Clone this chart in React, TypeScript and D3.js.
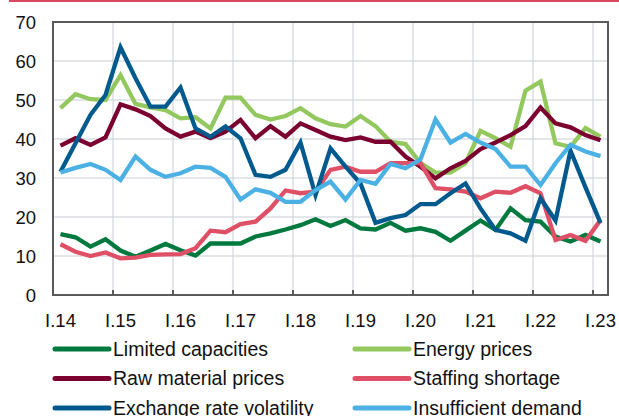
import React, { useEffect, useRef } from "react";
import * as d3 from "d3";

// quarters I.14 .. I.23 (37 points)
const years = ["14", "15", "16", "17", "18", "19", "20", "21", "22", "23"];
const quarters: string[] = [];
years.forEach((y, yi) => {
  ["I", "II", "III", "IV"].forEach((q) => {
    if (yi < years.length - 1 || q === "I") quarters.push(`${q}.${y}`);
  });
});
const tickLabels = years.map((y) => `I.${y}`);
const yTicks = [0, 10, 20, 30, 40, 50, 60, 70];

const limitedCapacities = [
  15.6, 14.8, 12.4, 14.3, 11.4, 9.8, 11.4, 13.1, 11.5, 10.1, 13.2, 13.2, 13.2,
  15, 15.8, 16.8, 17.9, 19.4, 17.7, 19.2, 17.1, 16.8, 18.5, 16.5, 17.1, 16.2,
  13.9, 16.5, 19.1, 16.7, 22.2, 19.2, 18.8, 15, 13.7, 15.4, 13.7,
];
const energyPrices = [
  47.9, 51.5, 50.2, 50, 56.4, 49, 48.1, 47.4, 45.3, 45.6, 42.7, 50.6, 50.6,
  46.2, 45, 45.9, 47.9, 45.3, 43.8, 43.2, 45.9, 43.3, 39.3, 38.7, 33.8, 31.4,
  31.4, 33.8, 42.1, 40.2, 38, 52.4, 54.7, 38.9, 38, 42.8, 40.6,
];
const rawMaterialPrices = [
  38.3, 40.2, 38.5, 40.4, 48.9, 47.6, 45.9, 42.7, 40.6, 41.9, 40.2, 41.9, 44.9,
  40.2, 43.3, 40.6, 44, 42.3, 40.6, 39.7, 40.4, 39.3, 39.3, 35.5, 32.9, 29.9,
  32.5, 34.4, 37.4, 39.1, 41, 43.3, 48.1, 44, 43, 41, 39.7,
];
const staffingShortage = [
  13, 11.1, 10, 10.9, 9.4, 9.6, 10.3, 10.4, 10.5, 12, 16.5, 16.1, 18.2, 18.8,
  22.2, 26.8, 26.1, 26.5, 32.1, 32.9, 31.6, 31.6, 33.8, 33.8, 33.8, 27.4, 27.1,
  26.5, 24.8, 26.5, 26.2, 27.9, 26.1, 14.1, 15.4, 13.9, 19.2,
];
const exchangeRateVolatility = [
  31.6, 38.9, 46.2, 51.3, 63.5, 55.6, 48.3, 48.3, 53.2, 42.7, 40.6, 43.2, 40.2,
  30.8, 30.3, 32.1, 39.1, 25.6, 37.6, 32.9, 28.6, 18.5, 19.7, 20.5, 23.3, 23.3,
  26.1, 28.6, 22.2, 16.7, 15.8, 13.9, 24.8, 19.1, 37, 27.6, 18.5,
];
const insufficientDemand = [
  31.4, 32.6, 33.6, 32.1, 29.5, 35.5, 32.1, 30.3, 31.2, 32.9, 32.6, 30.3, 24.5,
  27.1, 26.2, 23.9, 23.9, 26.9, 29.1, 24.5, 29.5, 28.5, 33.6, 32.5, 34.8, 45,
  39.1, 41.3, 39.1, 37.4, 32.9, 32.9, 28.2, 33.8, 38.5, 36.8, 35.6,
];

const series = [
  { name: "Limited capacities", color: "#00793e", values: limitedCapacities },
  { name: "Energy prices", color: "#92c85e", values: energyPrices },
  { name: "Raw material prices", color: "#7b0030", values: rawMaterialPrices },
  { name: "Staffing shortage", color: "#df4f66", values: staffingShortage },
  { name: "Exchange rate volatility", color: "#005a8e", values: exchangeRateVolatility },
  { name: "Insufficient demand", color: "#4bb1e5", values: insufficientDemand },
];

const App = () => {
  const svgRef = useRef<SVGSVGElement | null>(null);

  useEffect(() => {
    const width = 619;
    const height = 416;
    const margin = { top: 22, right: 11, bottom: 121, left: 53 };
    const font = "'Liberation Sans', Arial, sans-serif";

    const svg = d3.select(svgRef.current);
    svg.selectAll("*").remove();
    svg.attr("width", width).attr("height", height);

    // red rule on top
    svg
      .append("line")
      .attr("x1", 9)
      .attr("x2", width)
      .attr("y1", 1)
      .attr("y2", 1)
      .attr("stroke", "#d9485f")
      .attr("stroke-width", 2);

    const x = d3
      .scaleBand()
      .domain(quarters)
      .range([margin.left, width - margin.right]);

    const y = d3
      .scaleLinear()
      .domain([0, 70])
      .range([height - margin.bottom, margin.top]);

    const left = margin.left;
    const right = width - margin.right;
    const bottom = height - margin.bottom;
    const top = margin.top;

    // grid
    const grid = svg.append("g").attr("stroke", "#c9cdd3").attr("stroke-width", 1);
    yTicks.slice(1, -1).forEach((t) => {
      grid
        .append("line")
        .attr("x1", left)
        .attr("x2", right)
        .attr("y1", y(t))
        .attr("y2", y(t));
    });
    tickLabels.forEach((t, i) => {
      if (i === 0) return;
      const xx = x(t)!;
      grid.append("line").attr("x1", xx).attr("x2", xx).attr("y1", top).attr("y2", bottom);
    });

    // lines
    const line = d3
      .line<number>()
      .x((_, i) => x(quarters[i])! + x.bandwidth() / 2)
      .y((d) => y(d));

    series.forEach((s) => {
      svg
        .append("path")
        .attr("d", line(s.values))
        .attr("fill", "none")
        .attr("stroke", s.color)
        .attr("stroke-width", 4.3)
        .attr("stroke-linejoin", "miter");
    });

    // frame
    svg
      .append("rect")
      .attr("x", left)
      .attr("y", top)
      .attr("width", right - left)
      .attr("height", bottom - top)
      .attr("fill", "none")
      .attr("stroke", "#5a5a5a")
      .attr("stroke-width", 2);

    // x ticks
    tickLabels.forEach((t) => {
      const xx = x(t)!;
      svg
        .append("line")
        .attr("x1", xx)
        .attr("x2", xx)
        .attr("y1", bottom)
        .attr("y2", bottom - 5)
        .attr("stroke", "#5a5a5a")
        .attr("stroke-width", 2);
      svg
        .append("text")
        .attr("x", xx + x.bandwidth() / 2)
        .attr("y", bottom + 32)
        .attr("text-anchor", "middle")
        .attr("font-family", font)
        .attr("font-size", 18.5)
        .attr("fill", "#111")
        .text(t);
    });

    // y labels
    yTicks.forEach((t) => {
      svg
        .append("text")
        .attr("x", 36)
        .attr("y", y(t) + 6.5)
        .attr("text-anchor", "end")
        .attr("font-family", font)
        .attr("font-size", 18.5)
        .attr("fill", "#111")
        .text(t);
    });

    // legend
    series.forEach((s, i) => {
      const col = i % 2;
      const row = Math.floor(i / 2);
      const lx = col === 0 ? 55 : 355;
      const ly = 349 + row * 29.5;
      const g = svg.append("g").attr("transform", `translate(${lx},${ly})`);
      g.append("line")
        .attr("x1", 0)
        .attr("x2", 54)
        .attr("stroke", s.color)
        .attr("stroke-width", 5)
        .attr("stroke-linecap", "round");
      g.append("text")
        .attr("x", 58)
        .attr("y", 6.5)
        .attr("font-family", font)
        .attr("font-size", 19.5)
        .attr("fill", "#111")
        .text(s.name);
    });
  }, []);

  return (
    <svg
      ref={svgRef}
      style={{ position: "absolute", left: 0, top: 0, background: "#fff" }}
    />
  );
};

export default App;
